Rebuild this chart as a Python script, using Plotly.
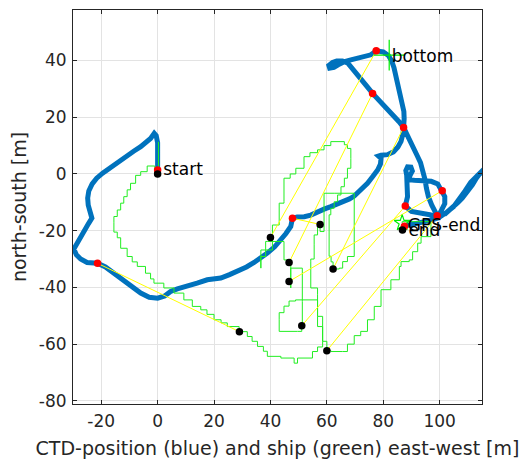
import plotly.graph_objects as go

# ---------------- data ----------------
# CTD track (blue), east-west / north-south [m]
ctd_x = [0, 0.1, 0, -0.5, -1.2, -2.5, -4, -6, -8.5, -10.8, -13.5, -16.7, -19.5, -21.6, -23.2, -24.4,
         -24.8, -24.6, -23.7, -23.3, -24.5, -26.2, -28, -29.7, -28.8, -27.3, -25, -21.3, -18.5, -15.5,
         -13, -10.8, -8.4, -6, -3, 0, 2.5, 4.6, 7, 10.5, 14, 17.6, 22.4, 25.5, 28.3, 31.5, 34.2, 36.8,
         38.9, 41.5, 43.7, 45.5, 47.2, 47.8, 49.5, 52, 54.3, 56.7, 59, 61.4, 63.8, 66.1, 68, 69.7, 71.2,
         72.8, 74.4, 76.2, 78, 79, 79.2, 78.3, 79.2, 81.5, 83.6, 85.2, 86.3, 87, 87.2, 85.5, 82.7, 80.2,
         78, 76.2, 74.5, 73, 71.3, 69.7, 68.3, 67.3, 65.5, 63.5, 62, 60.7, 61, 62.5, 64, 66, 68.5, 70.9,
         73.5, 75.6, 77.5, 80, 81.8, 83, 83.8, 84.4, 85, 85.6, 86.2, 86.8, 87.3, 87.4, 87.2,
         88.2, 89.4, 90.6, 92, 93.2, 94.2, 94.8, 95.3, 96, 97.2, 98.5, 99.1, 97, 93, 90, 88.6, 87.8,
         88.6, 88.6, 88.3, 88, 88.6, 89.8, 90.3, 89.5, 89, 91, 94, 97, 99.3, 100.9, 101.8, 101.8, 100.8,
         100, 102, 104.5, 106.5, 108, 110, 111.6, 113, 114, 116.4, 115.5, 113.5, 111, 109, 107, 105,
         102.5, 99.5, 96, 92, 89, 87.5]
ctd_y = [1.4, 6, 11, 13.5, 14.3, 12.5, 11, 9.6, 8, 6.5, 4.5, 2.4, 0.3, -1.5, -3.5, -6,
         -8.5, -11, -13.5, -15.6, -17.5, -20.5, -23.5, -26.5, -28.5, -30, -31.2, -31.5, -32.8, -35,
         -36.8, -38.5, -40.5, -42, -43.5, -43.8, -43, -41.4, -40.5, -39.7, -38.5, -37.3, -36.7, -35.5,
         -34.4, -32.8, -31.2, -29.5, -27.9, -25.7, -23.2, -21, -18.5, -15.6, -15.2, -15.1, -14.5, -13.3,
         -12.4, -11.5, -10.6, -9.7, -8.8, -7.8, -6.5, -5, -3.3, -1, 1.4, 3.5, 5.5, 6.3, 6.6, 6.8, 7.8,
         9.5, 11.5, 14.3, 16.4, 18.5, 21.4, 24, 26.1, 28.4, 30.5, 32.2, 34.2, 36, 38, 39.2, 39.8, 39.8,
         39.3, 38.3, 37.3, 37.6, 38.5, 39.5, 40.2, 40.8, 41.4, 42, 43.4, 43, 41.8, 39.8, 37.5, 35, 32.5,
         30, 27.2, 24.5, 22, 19.5, 16.4,
         14.3, 11.5, 9, 6.5, 4, 1, -2, -5, -8, -11, -13.5, -14.7, -14.5, -13.8, -13.2, -12, -11.3,
         -8, -3, -0.5, 1.2, 2.5, 2.4, 1, -0.5, -2, -2.2, -2.2, -2.6, -3.5, -5.9, -8, -10.5, -12.5,
         -14, -14, -12, -10, -8.5, -6, -3.8, -1.5, -0.2, 2.1, 1.5, -0.5, -3, -6, -9, -11.5,
         -13.5, -15.5, -16.5, -17.2, -17.8, -18.4]

# ship track (green)
ship_x = [0.3, 0.3, -1, -3.7, -6, -7.8, -9.6, -10.8, -12, -13.1, -14.3, -15.5, -15.5, -14.3, -13.1,
          -10.8, -9, -7.2, -4.3, -2.5, -1.3, 2.2, 5.8, 9.3, 12.3, 15.3, 17.5, 20, 22.5, 24.7, 28.9,
          31.8, 33.5, 35.4, 37.5, 38.9, 43.7, 44.8, 48.4, 49.6, 54.9, 54.9, 56.7, 58.5, 58.5, 56.7,
          56.7, 51.3, 48.9, 46.6, 44.8, 43.1, 43.1, 49.6, 51.1, 51.3, 51.3, 47.2, 47.2, 44.8, 44.8,
          38.9, 38.3, 36.6, 36.6, 36.6, 38.3, 40.7, 40.7, 43.1, 44.8, 44.8, 47, 49, 51.9, 54, 56.7,
          59, 61.4, 65, 66.2, 67.3, 68.5, 68.5, 67.3, 66.2, 65, 63.8, 62.6, 61.4, 60.8, 61.5, 62.2,
          64.4, 65.6, 67.3, 69.7, 69.7, 62.6, 59, 59, 57.6, 56.7, 55.5, 55.5, 54.3, 54.3, 56.7, 56.7,
          58.5, 58.5, 60, 61.4, 65.6, 67.3, 69.7, 72, 74.4, 76.8, 79.2, 82.7, 85.7, 86.3, 89.2, 90.4,
          92.2, 93.4, 96.9, 96.9, 87.4, 86.7]
ship_y = [11.3, 0, 2.8, 0.8, -0.5, -3.3, -5.6, -8, -10.3, -12.7, -15, -17, -20.5, -22.5, -26.2,
          -29.1, -31, -32.6, -35, -37, -38.5, -40.2, -42, -44.4, -46.7, -47.9, -49.5, -51.4, -52.5,
          -53.8, -55.6, -57.3, -59, -60.8, -62.5, -64.3, -64.9, -64.9, -66.7, -64.9, -64.9, -62.6,
          -61, -59, -53.8, -50.2, -44.4, -44.4, -44.8, -46.6, -48.9, -51.4, -55.5, -55.5, -53.5, -45,
          -33.2, -40.2, -30.3, -30.3, -23.8, -23.8, -26.8, -29.1, -33.2, -29.1, -26.8, -22.4, -18,
          -10.3, -9.7, -1.5, 0, 2, 6.1, 7.5, 8.5, 10, 11.4, 11.4, 10.3, 9, 5.5, 2, -1.5, -4.5, -7.4,
          -9.8, -12.1, -14.4, -29, -31, -33.5, -33.2, -30.9, -29.1, -26.8, -6.8, -6.8, -7.4, -20.3,
          -17.8, -21.5, -25, -30, -31, -40.2, -42.6, -50.2, -53.8, -59, -62.3, -62.6, -62.6, -60, -57,
          -55.5, -51.4, -46.7, -40.8, -37.3, -32.6, -30.9, -30.3, -27.4, -24.4, -22.1, -22.1, -16.8,
          -16.8, -17.3]

# CTD positions at sample times (red) and ship positions at the same times (black)
red_x = [0, -21.3, 47.8, 76.2, 77.5, 87.2, 100.9, 87.8, 99.1, 87.5]
red_y = [1.4, -31.5, -15.6, 28.4, 43.4, 16.4, -5.9, -11.3, -14.7, -18.4]
black_x = [0, 29, 57.6, 46.6, 40, 62.2, 46.6, 51.1, 60, 86.8]
black_y = [0, -55.6, -17.8, -31.2, -22.4, -33.5, -37.9, -53.5, -62.3, -19.8]

# special markers
bottom_mark_x = [82.1]
bottom_mark_y = [41.9]
gps_end_x = [86.7]
gps_end_y = [-17.3]

# labels
label_text = ["start", "bottom", "GPS-end", "end"]
label_x = [2.0, 83.0, 88.7, 88.9]
label_y = [1.0, 41.0, -18.6, -20.2]

x_ticks = [-20, 0, 20, 40, 60, 80, 100]
x_tick_text = ["-20", "0", "20", "40", "60", "80", "100"]
y_ticks = [-80, -60, -40, -20, 0, 20, 40]
y_tick_text = ["-80", "-60", "-40", "-20", "0", "20", "40"]

# ---------------- figure ----------------
fig = go.Figure()

fig.add_trace(go.Scatter(x=ctd_x, y=ctd_y, mode="lines",
                         line=dict(color="#0072BD", width=5), hoverinfo="skip"))
fig.add_trace(go.Scatter(x=ship_x, y=ship_y, mode="lines",
                         line=dict(color="#22ee22", width=1, shape="hv"), hoverinfo="skip"))

yl_x, yl_y = [], []
for rx, ry, bx, by in zip(red_x, red_y, black_x, black_y):
    yl_x += [rx, bx, None]
    yl_y += [ry, by, None]
fig.add_trace(go.Scatter(x=yl_x, y=yl_y, mode="lines",
                         line=dict(color="#ffff00", width=1), hoverinfo="skip"))

fig.add_trace(go.Scatter(x=bottom_mark_x, y=bottom_mark_y, mode="markers",
                         marker=dict(symbol="cross-thin-open", size=22, color="#00ee00",
                                     line=dict(color="#00ee00", width=1.2)), hoverinfo="skip"))
fig.add_trace(go.Scatter(x=gps_end_x, y=gps_end_y, mode="markers",
                         marker=dict(symbol="star-open", size=12, color="#00ee00",
                                     line=dict(color="#00ee00", width=1.2)), hoverinfo="skip"))

fig.add_trace(go.Scatter(x=red_x, y=red_y, mode="markers",
                         marker=dict(color="#ff0000", size=7.5), hoverinfo="skip"))
fig.add_trace(go.Scatter(x=black_x, y=black_y, mode="markers",
                         marker=dict(color="#000000", size=7.5), hoverinfo="skip"))

fig.add_trace(go.Scatter(x=label_x, y=label_y, mode="text", text=label_text,
                         textposition="middle right",
                         textfont=dict(family="DejaVu Sans", size=17, color="#000000"),
                         hoverinfo="skip"))

axis_common = dict(
    ticks="inside", ticklen=4, tickcolor="#262626", tickwidth=1,
    showline=True, linecolor="#262626", linewidth=1, mirror="ticks",
    showgrid=True, gridcolor="#e3e3e3", gridwidth=1, zeroline=False, automargin=False,
    ticklabelstandoff=2,
    tickfont=dict(family="DejaVu Sans", size=17, color="#262626"),
)

# the page body has an 8px default margin, so margins are reduced by 8 px
fig.update_layout(
    width=519, height=451,
    margin=dict(l=65, r=45, t=2, b=55),
    plot_bgcolor="white", paper_bgcolor="white",
    showlegend=False,
    font=dict(family="DejaVu Sans", color="#262626"),
    xaxis=dict(range=[-30, 115], tickmode="array", tickvals=x_ticks, ticktext=x_tick_text,
               title=dict(text="CTD-position (blue) and ship (green) east-west [m]",
                          font=dict(family="DejaVu Sans", size=19, color="#262626"), standoff=16),
               **axis_common),
    yaxis=dict(range=[-81.1, 57.8], tickmode="array", tickvals=y_ticks, ticktext=y_tick_text,
               title=dict(text="north-south [m]",
                          font=dict(family="DejaVu Sans", size=19, color="#262626"), standoff=11),
               **axis_common),
)

fig.write_html("out.html")
